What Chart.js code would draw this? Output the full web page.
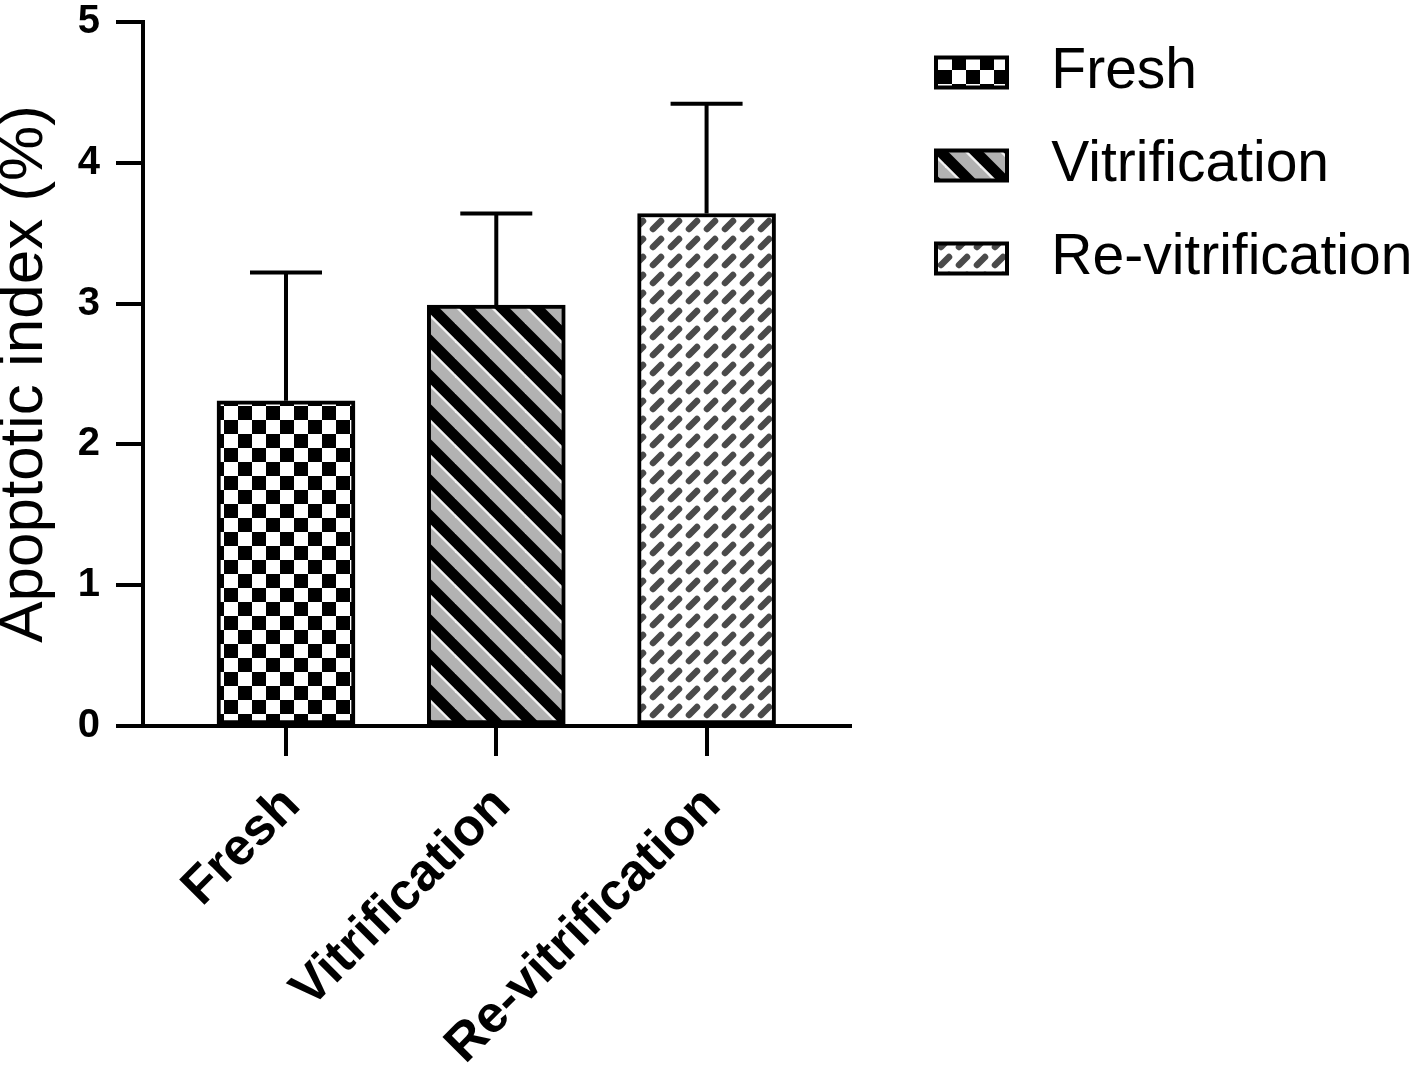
<!DOCTYPE html>
<html><head><meta charset="utf-8">
<script src="https://cdn.jsdelivr.net/npm/chart.js@4.4.1/dist/chart.umd.min.js"></script>
<style>html,body{margin:0;padding:0;background:#fff;} #wrap{width:1416px;height:1067px;}</style>
</head><body><div id="wrap"><canvas id="c" width="1416" height="1067"></canvas></div>
<script>
// ---- data ----
const categories = ['Fresh', 'Vitrification', 'Re-vitrification'];
const means = [2.31, 2.99, 3.64];
const errors = [0.91, 0.65, 0.78];
const yMin = 0, yMax = 5, yStep = 1;
const yTitle = 'Apoptotic index (%)';

// ---- patterns ----
function makePattern(size, draw) {
  const c = document.createElement('canvas');
  c.width = size; c.height = size;
  const g = c.getContext('2d');
  draw(g, size);
  return g.createPattern(c, 'repeat');
}
const checker = makePattern(28, (g, s) => {
  g.fillStyle = '#fff'; g.fillRect(0, 0, s, s);
  g.fillStyle = '#000'; g.fillRect(0, 0, 14, 14); g.fillRect(14, 14, 14, 14);
});
const stripes = makePattern(35, (g, s) => {
  g.fillStyle = '#000'; g.fillRect(0, 0, s, s);
  const band = (w, color, off) => {
    g.strokeStyle = color; g.lineWidth = w;
    for (let k = -2; k <= 2; k++) {
      g.beginPath();
      g.moveTo(k * s + off - s, -s);
      g.lineTo(k * s + off + 2 * s, 2 * s);
      g.stroke();
    }
  };
  band(12, '#b2b2b2', 0);
  band(2.5, '#f2f2f2', 9.5);
});
const dashes = makePattern(18, (g, s) => {
  g.fillStyle = '#fff'; g.fillRect(0, 0, s, s);
  g.strokeStyle = '#4a4a4a'; g.lineWidth = 6.5; g.lineCap = 'round';
  g.beginPath(); g.moveTo(5, 13); g.lineTo(13, 5); g.stroke();
});
const fills = [checker, stripes, dashes];

Chart.defaults.font.family = '"Liberation Sans", Arial, sans-serif';
Chart.defaults.color = '#000';

const errorBars = {
  id: 'errorBars',
  afterDatasetsDraw(chart) {
    const { ctx } = chart;
    const y = chart.scales.y;
    const meta = chart.getDatasetMeta(0);
    ctx.save();
    ctx.strokeStyle = '#000';
    ctx.lineWidth = 4;
    meta.data.forEach((bar, i) => {
      const top = y.getPixelForValue(means[i] + errors[i]);
      ctx.beginPath();
      ctx.moveTo(bar.x, bar.y);
      ctx.lineTo(bar.x, top);
      ctx.moveTo(bar.x - 36, top);
      ctx.lineTo(bar.x + 36, top);
      ctx.stroke();
    });
    ctx.restore();
  }
};

const legendShift = {
  id: 'legendShift',
  afterLayout(chart) {
    const l = chart.legend;
    if (!l) return;
    const w = l.width;
    l.left = 900; l.right = 900 + w;
  }
};

new Chart(document.getElementById('c'), {
  type: 'bar',
  data: {
    datasets: [{
      data: means.map((v, i) => ({ x: i, y: v })),
      backgroundColor: fills,
      borderColor: '#000',
      borderWidth: 4,
      borderSkipped: false,
      barThickness: 138,
      grouped: false
    }]
  },
  options: {
    responsive: false,
    animation: false,
    devicePixelRatio: 1,
    layout: { padding: { left: 0, top: 8, right: 44, bottom: 0 } },
    plugins: {
      tooltip: { enabled: false },
      legend: {
        display: true,
        position: 'right',
        align: 'start',
        maxWidth: 700,
        labels: {
          boxWidth: 71,
          boxHeight: 30,
          padding: 36,
          color: '#000',
          font: { size: 57 },
          generateLabels: () => categories.map((c, i) => ({
            text: ' ' + c,
            fillStyle: fills[i],
            strokeStyle: '#000',
            lineWidth: 4,
            hidden: false,
            index: i,
            datasetIndex: 0,
            fontColor: '#000'
          }))
        }
      }
    },
    scales: {
      x: {
        type: 'linear',
        offset: false,
        min: -0.68,
        max: 2.68,
        afterBuildTicks: (scale) => { scale.ticks = categories.map((_, i) => ({ value: i })); },
        afterFit: (scale) => { scale.height = 341; },
        ticks: {
          autoSkip: false,
          minRotation: 45,
          maxRotation: 45,
          padding: 19,
          labelOffset: 6,
          color: '#000',
          font: { size: 52, weight: 'bold' },
          callback: (v) => categories[v]
        },
        grid: { display: true, offset: false, drawOnChartArea: false, drawTicks: true, tickLength: 30, tickWidth: 4, tickColor: '#000', color: '#000', lineWidth: 4 },
        border: { display: true, width: 4, color: '#000' }
      },
      y: {
        min: yMin,
        max: yMax,
        afterFit: (scale) => { scale.width = 143; scale.paddingTop = 22; },
        ticks: { stepSize: yStep, padding: 16, color: '#000', font: { size: 40, weight: 'bold' } },
        grid: { display: true, drawOnChartArea: false, drawTicks: true, tickLength: 27, tickWidth: 4, tickColor: '#000', color: '#000', lineWidth: 4 },
        border: { display: true, width: 4, color: '#000' },
        title: {
          display: true,
          text: yTitle,
          color: '#000',
          font: { size: 62, weight: 'normal', lineHeight: 0.8 },
          padding: { top: 0, bottom: 12 }
        }
      }
    }
  },
  plugins: [errorBars, legendShift]
});
</script>
</body></html>
